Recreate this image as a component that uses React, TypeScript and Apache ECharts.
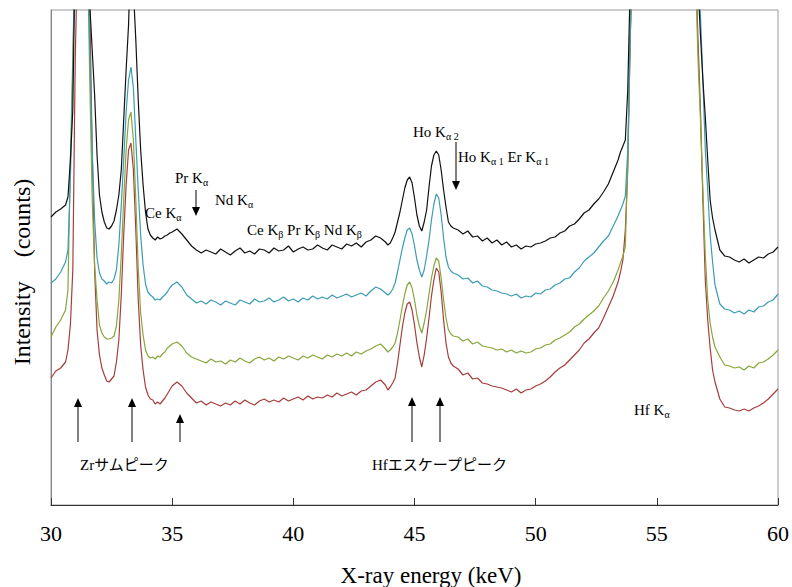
import React, { useEffect, useRef } from "react";
import * as echarts from "echarts";

// X-ray energy grid (keV)
const energy = [
  30.0, 30.2, 30.4, 30.6,
  30.7, 30.8, 30.9, 31.0, 31.1, 31.2, 31.3, 31.4, 31.5, 31.6,
  31.7, 31.8, 31.9, 32.0, 32.1, 32.2, 32.3, 32.4, 32.5, 32.6,
  32.7, 32.8, 32.9, 33.0, 33.1, 33.2, 33.3, 33.4, 33.5, 33.6,
  33.7, 33.8, 33.9, 34.0, 34.1, 34.2, 34.3, 34.4, 34.5, 34.6,
  34.7, 34.8, 34.9, 35.0,
  35.2, 35.4, 35.6, 35.8, 36.0, 36.2, 36.4, 36.6, 36.8, 37.0,
  37.2, 37.4, 37.6, 37.8, 38.0, 38.2, 38.4, 38.6, 38.8, 39.0,
  39.2, 39.4, 39.6, 39.8, 40.0, 40.2, 40.4, 40.6, 40.8, 41.0,
  41.2, 41.4, 41.6, 41.8, 42.0, 42.2, 42.4, 42.6, 42.8, 43.0,
  43.2, 43.4, 43.6, 43.8,
  43.9, 44.0, 44.1, 44.2, 44.3, 44.4, 44.5, 44.6, 44.7, 44.8,
  44.9, 45.0, 45.1, 45.2, 45.3, 45.4, 45.5, 45.6, 45.7, 45.8,
  45.9, 46.0, 46.1, 46.2, 46.3, 46.4, 46.5, 46.6,
  46.8, 47.0, 47.2, 47.4, 47.6, 47.8, 48.0, 48.2, 48.4, 48.6,
  48.8, 49.0, 49.2, 49.4, 49.6, 49.8, 50.0, 50.2, 50.4, 50.6,
  50.8, 51.0, 51.2, 51.4, 51.6, 51.8, 52.0, 52.2, 52.4, 52.6,
  52.8, 53.0, 53.2, 53.4,
  53.5, 53.6, 53.7, 53.8, 53.9, 54.0,
  54.5, 55.0, 55.5, 56.0, 56.5,
  56.6, 56.7, 56.8, 56.9, 57.0, 57.1, 57.2, 57.3, 57.4,
  57.6, 57.8, 58.0, 58.2, 58.4, 58.6, 58.8, 59.0, 59.2, 59.4,
  59.6, 59.8, 60.0,
];

// Intensity (arbitrary units, offset spectra)
const blackSpectrum = [
  288, 293, 296, 300,
  308, 345, 395, 560, 560, 560, 560, 560, 560, 500,
  455, 410, 350, 310, 293, 283, 277, 276, 279, 284,
  295, 310, 335, 385, 435, 480, 560, 515, 465, 405,
  355, 320, 293, 276, 270, 267, 265, 268, 266, 267,
  269, 270, 272, 273,
  276, 271, 265, 259, 255, 252, 255, 253, 251, 256,
  253, 250, 254, 257, 252, 254, 251, 256, 255, 252,
  257, 254, 255, 259, 253, 256, 258, 255, 256, 260,
  257, 255, 260, 258, 256, 261, 259, 262, 258, 263,
  265, 269, 267, 263,
  260, 262, 267, 273, 283, 293, 305, 317, 325, 328,
  322, 307, 290, 279, 274, 283, 295, 318, 339, 350,
  354, 350, 335, 315, 298, 283, 279, 277,
  275, 271, 274, 268, 269, 264, 267, 262, 265, 260,
  263, 258, 260, 256, 259, 258, 261, 262, 264, 267,
  268, 272, 274, 279, 281, 286, 292, 295, 301, 306,
  313, 321, 333, 345,
  353, 359, 365, 415, 520, 560,
  560, 560, 560, 560, 560,
  560, 520, 470, 425, 388, 345, 305, 287, 275,
  255, 249, 248, 245, 243, 246, 242, 245, 248, 247,
  251, 253, 258,
];

const tealSpectrum = [
  222, 226, 233, 243,
  255, 325, 435, 560, 560, 560, 560, 560, 560, 455,
  355, 285, 247, 232, 226, 224, 221, 223, 222, 226,
  235, 260, 300, 345, 393, 425, 438, 417, 365, 315,
  270, 240, 221, 213, 210, 208, 205, 206, 205, 208,
  210, 213, 217, 220,
  223, 218, 210, 206, 202, 204, 201, 205, 203, 200,
  204, 202, 200, 205, 203, 201, 206, 203, 204, 207,
  203, 205, 208, 204, 206, 203, 207, 205, 209, 206,
  208, 206, 210, 207, 209, 211, 208, 210, 212, 209,
  214, 218, 216, 212,
  210, 212, 216, 222, 233, 245, 257, 267, 275, 277,
  271, 259, 245, 235, 228, 235, 249, 265, 285, 301,
  311, 307, 290, 267, 248, 238, 234, 232,
  230, 226, 227, 222, 224, 219, 218, 215, 214, 212,
  211, 209, 211, 207, 209, 208, 212, 211, 215, 216,
  220, 222, 226, 227, 233, 237, 244, 248, 252, 258,
  264, 269, 279, 289,
  295, 301, 309, 355, 465, 560,
  560, 560, 560, 560, 560,
  560, 530, 490, 425, 355, 315, 270, 243, 220,
  201, 196, 195, 192, 194, 191, 195, 193, 198, 199,
  203, 205, 211,
];

const greenSpectrum = [
  168, 178, 185, 195,
  215, 345, 450, 560, 560, 560, 560, 560, 560, 425,
  305, 240, 205, 180, 172, 168, 166, 166, 167, 169,
  179, 205, 250, 305, 355, 385, 393, 365, 305, 237,
  192, 170, 155, 149, 147, 148, 146, 149, 148, 151,
  153, 157, 159, 161,
  163, 159, 152, 148, 146, 144, 142, 146, 143, 144,
  141, 145, 143, 147, 144, 142, 146, 148, 145, 147,
  144, 148, 146, 149, 147, 145, 149, 147, 150, 148,
  146, 150, 148, 151, 149, 152, 149, 153, 151, 154,
  156, 159, 161, 156,
  153, 155, 158, 162, 172, 185, 199, 211, 220, 223,
  217, 205, 190, 179, 172, 182, 195, 211, 227, 239,
  247, 244, 227, 205, 187, 175, 171, 169,
  168, 164, 166, 161, 163, 159, 158, 157, 155, 156,
  153, 155, 152, 154, 152, 153, 156, 157, 160, 161,
  165, 167, 170, 173, 178, 181, 186, 190, 194, 199,
  207, 214, 223, 235,
  242, 249, 258, 345, 465, 560,
  560, 560, 560, 560, 560,
  530, 445, 385, 315, 250, 205, 182, 168, 158,
  148, 140, 139, 137, 138, 135, 139, 137, 142, 143,
  146, 150, 155,
];

const redSpectrum = [
  127, 134, 137, 143,
  155, 180, 235, 445, 560, 560, 560, 560, 560, 500,
  355, 235, 175, 150, 137, 130, 124, 123, 126, 129,
  143, 165, 210, 270, 320, 355, 362, 335, 275, 205,
  160, 135, 118, 110, 106, 105, 101, 103, 101, 104,
  107, 111, 115, 119,
  123, 119, 112, 107, 102, 104, 100, 103, 101, 99,
  102, 100, 104, 101, 105, 102, 100, 104, 106, 103,
  105, 103, 107, 104, 106, 108, 105, 109, 106, 108,
  107, 110, 108, 112, 109, 111, 113, 110, 114, 115,
  119, 123, 125, 120,
  115, 118, 122, 127, 142, 160, 178, 192, 201, 203,
  195, 180, 162, 148, 138, 150, 167, 187, 209, 225,
  237, 233, 213, 185, 162, 148, 142, 139,
  136, 130, 132, 126, 127, 122, 121, 119, 118, 117,
  115, 113, 116, 112, 115, 116, 119, 121, 124, 128,
  133, 137, 140, 145, 150, 155, 162, 166, 172, 177,
  187, 198, 209, 223,
  233, 245, 275, 335, 465, 560,
  560, 560, 560, 560, 560,
  540, 465, 395, 305, 225, 185, 157, 135, 123,
  106, 98, 97, 95, 94, 96, 94, 97, 99, 102,
  106, 111, 116,
];

const xTicks = [30, 35, 40, 45, 50, 55, 60];

const SERIF = "'Liberation Serif', 'Times New Roman', serif";
const JP = "'Liberation Serif', 'Noto Sans CJK JP', serif";

const RICH = {
  m: { fontSize: 15, fontFamily: SERIF, lineHeight: 18, fill: "#000" },
  s: { fontSize: 10, fontFamily: SERIF, lineHeight: 8, fill: "#000", verticalAlign: "bottom" },
};

function label(x: number, y: number, text: string) {
  return {
    type: "text",
    x,
    y,
    silent: true,
    style: { text, rich: RICH, fill: "#000", textVerticalAlign: "middle", textAlign: "left" },
  };
}

function jpLabel(x: number, y: number, text: string) {
  return {
    type: "text",
    x,
    y,
    silent: true,
    style: { text, fill: "#000", fontSize: 15, fontFamily: JP, textVerticalAlign: "middle", textAlign: "left" },
  };
}

function upArrow(x: number, tip: number, bottom: number) {
  return [
    { type: "line", silent: true, shape: { x1: x, y1: tip + 7, x2: x, y2: bottom }, style: { stroke: "#000", lineWidth: 1 } },
    { type: "polygon", silent: true, shape: { points: [[x, tip], [x - 4, tip + 9], [x + 4, tip + 9]] }, style: { fill: "#000" } },
  ];
}

function downArrow(x: number, top: number, tip: number) {
  return [
    { type: "line", silent: true, shape: { x1: x, y1: top, x2: x, y2: tip - 7 }, style: { stroke: "#000", lineWidth: 1 } },
    { type: "polygon", silent: true, shape: { points: [[x, tip], [x - 4, tip - 9], [x + 4, tip - 9]] }, style: { fill: "#000" } },
  ];
}

export default function App() {
  const ref = useRef<HTMLDivElement>(null);

  useEffect(() => {
    if (!ref.current) return;
    const chart = echarts.init(ref.current, null, { renderer: "svg" });
    const pair = (vals: number[]) => energy.map((e, i) => [e, vals[i]]);
    const mk = (name: string, vals: number[], color: string) => ({
      name,
      type: "line",
      data: pair(vals),
      showSymbol: false,
      symbol: "none",
      clip: true,
      silent: true,
      lineStyle: { color, width: 1.2 },
      itemStyle: { color },
    });

    const option = {
      animation: false,
      backgroundColor: "#fff",
      grid: { left: 51, right: 12, top: 10, bottom: 82, show: true, borderColor: "#9a9a9a", borderWidth: 1 },
      xAxis: {
        type: "value",
        min: xTicks[0],
        max: xTicks[xTicks.length - 1],
        interval: 5,
        axisLine: { show: true, lineStyle: { color: "#333", width: 1 } },
        axisTick: { show: true, inside: true, length: 7, lineStyle: { color: "#333" } },
        axisLabel: { fontSize: 22, fontFamily: SERIF, color: "#000", margin: 17 },
        splitLine: { show: false },
      },
      yAxis: {
        type: "value",
        min: 0,
        max: 495,
        axisLine: { show: true, lineStyle: { color: "#888" } },
        axisTick: { show: false },
        axisLabel: { show: false },
        splitLine: { show: false },
      },
      series: [
        mk("red", redSpectrum, "#a63d3b"),
        mk("green", greenSpectrum, "#86a63a"),
        mk("teal", tealSpectrum, "#3b9cb5"),
        mk("black", blackSpectrum, "#111111"),
      ],
      graphic: [
        {
          type: "text",
          x: 431,
          y: 575,
          silent: true,
          style: { text: "X-ray energy (keV)", fontSize: 23, fontFamily: SERIF, fill: "#000", textAlign: "center", textVerticalAlign: "middle" },
        },
        {
          type: "text",
          x: 22,
          y: 272,
          rotation: Math.PI / 2,
          silent: true,
          style: { text: "Intensity\u3000(counts)", fontSize: 24, fontFamily: SERIF, fill: "#000", textAlign: "center", textVerticalAlign: "middle" },
        },
        label(145, 213, "{m|Ce K}{s|α}"),
        label(175, 178, "{m|Pr K}{s|α}"),
        label(215, 200, "{m|Nd K}{s|α}"),
        label(247, 230, "{m|Ce K}{s|β}{m| Pr K}{s|β}{m| Nd K}{s|β}"),
        label(413, 132, "{m|Ho K}{s|α 2}"),
        label(458, 157, "{m|Ho K}{s|α 1}{m| Er K}{s|α 1}"),
        label(634, 410, "{m|Hf K}{s|α}"),
        jpLabel(80, 465, "Zrサムピーク"),
        jpLabel(372, 465, "Hfエスケープピーク"),
        ...downArrow(196, 190, 216),
        ...downArrow(456, 142, 190),
        ...upArrow(78, 398, 442),
        ...upArrow(132, 398, 442),
        ...upArrow(180, 414, 442),
        ...upArrow(412, 397, 442),
        ...upArrow(440, 397, 442),
      ],
    };

    chart.setOption(option as any);
    return () => chart.dispose();
  }, []);

  return (
    <div
      ref={ref}
      style={{ position: "fixed", left: 0, top: 0, width: 792, height: 587, background: "#fff" }}
    />
  );
}
